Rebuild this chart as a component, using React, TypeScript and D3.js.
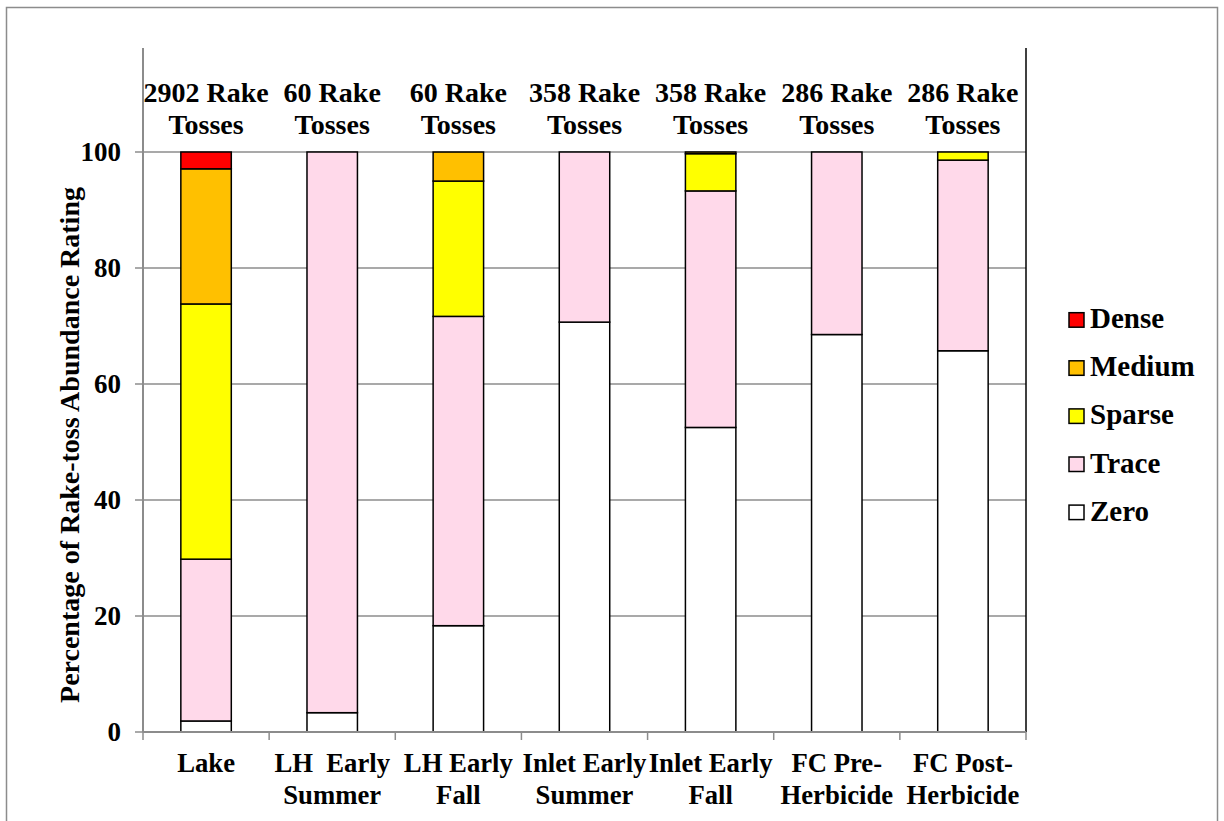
import React from "react";
import * as d3 from "d3";

const categories = [
  ["Lake"],
  ["LH  Early", "Summer"],
  ["LH Early", "Fall"],
  ["Inlet Early", "Summer"],
  ["Inlet Early", "Fall"],
  ["FC Pre-", "Herbicide"],
  ["FC Post-", "Herbicide"],
];
const headers = [
  ["2902 Rake", "Tosses"],
  ["60 Rake", "Tosses"],
  ["60 Rake", "Tosses"],
  ["358 Rake", "Tosses"],
  ["358 Rake", "Tosses"],
  ["286 Rake", "Tosses"],
  ["286 Rake", "Tosses"],
];
const seriesNames = ["Zero", "Trace", "Sparse", "Medium", "Dense"];
const seriesColors = ["#FFFFFF", "#FFD9EA", "#FFFF00", "#FFC000", "#FF0000"];
const zero = [1.9, 3.33, 18.33, 70.67, 52.51, 68.53, 65.73];
const trace = [27.9, 96.67, 53.33, 29.33, 40.78, 31.47, 32.87];
const sparse = [44.0, 0, 23.33, 0, 6.42, 0, 1.4];
const medium = [23.3, 0, 5.0, 0, 0.29, 0, 0];
const dense = [2.9, 0, 0, 0, 0, 0, 0];
const yTicks = [0, 20, 40, 60, 80, 100];

const FONT = "'Liberation Serif', 'Times New Roman', serif";

export default function App() {
  const W = 1224;
  const H = 821;
  const left = 143;
  const right = 1026;
  const top = 48;
  const bottom = 732;

  const keys = categories.map((_, i) => String(i));
  const x = d3.scaleBand<string>().domain(keys).range([left, right]).padding(0);
  const y = d3.scaleLinear().domain([0, 100]).range([bottom, 152]);
  const barW = x.bandwidth() * 0.4;

  const rows = keys.map((k, i) => ({
    k,
    Zero: zero[i],
    Trace: trace[i],
    Sparse: sparse[i],
    Medium: medium[i],
    Dense: dense[i],
  }));
  const stacked = d3.stack<any>().keys(seriesNames)(rows);

  return (
    <svg width={W} height={H} style={{ display: "block", position: "absolute", left: 0, top: 0 }} fontFamily={FONT}>
      <rect x={0} y={0} width={W} height={H} fill="#fff" />
      <rect x={6.5} y={7.5} width={1211} height={830} fill="none" stroke="#8c8c8c" strokeWidth={1.5} />

      {/* gridlines */}
      {yTicks.filter((t) => t > 0).map((t) => (
        <line key={t} x1={left} x2={right} y1={y(t)} y2={y(t)} stroke="#8c8c8c" strokeWidth={1.5} />
      ))}

      {/* stacked bars */}
      {stacked.map((layer, si) => (
        <g key={seriesNames[si]}>
          {layer.map((d, i) => {
            if (d[1] - d[0] <= 0) return null;
            const bx = (x(keys[i]) as number) + (x.bandwidth() - barW) / 2;
            return (
              <rect
                key={i}
                x={bx}
                y={y(d[1])}
                width={barW}
                height={y(d[0]) - y(d[1])}
                fill={seriesColors[si]}
                stroke="#000"
                strokeWidth={1.5}
              />
            );
          })}
        </g>
      ))}

      {/* axes */}
      <line x1={left} x2={left} y1={top} y2={bottom} stroke="#8c8c8c" strokeWidth={2} />
      <line x1={right} x2={right} y1={top} y2={bottom} stroke="#000" strokeWidth={1.5} />
      <line x1={left} x2={right} y1={bottom} y2={bottom} stroke="#8c8c8c" strokeWidth={2} />
      {yTicks.map((t) => (
        <g key={t}>
          <line x1={left - 8} x2={left} y1={y(t)} y2={y(t)} stroke="#8c8c8c" strokeWidth={1.5} />
          <text x={left - 22} y={y(t) + 9} textAnchor="end" fontSize={27} fontWeight="bold">
            {t}
          </text>
        </g>
      ))}
      {keys.concat(["end"]).map((k, i) => {
        const xx = i < keys.length ? (x(k) as number) : right;
        return <line key={k} x1={xx} x2={xx} y1={bottom} y2={bottom + 8} stroke="#8c8c8c" strokeWidth={1.5} />;
      })}

      {/* category labels */}
      {categories.map((lines, i) => {
        const cx = (x(keys[i]) as number) + x.bandwidth() / 2;
        return (
          <text key={i} textAnchor="middle" fontSize={26.7} fontWeight="bold">
            {lines.map((ln, j) => (
              <tspan key={j} x={cx} y={772 + j * 31.6} style={{ whiteSpace: "pre" }}>
                {ln}
              </tspan>
            ))}
          </text>
        );
      })}

      {/* sample-size headers */}
      {headers.map((lines, i) => {
        const cx = (x(keys[i]) as number) + x.bandwidth() / 2;
        return (
          <text key={i} textAnchor="middle" fontSize={28} fontWeight="bold">
            {lines.map((ln, j) => (
              <tspan key={j} x={cx} y={102 + j * 32}>
                {ln}
              </tspan>
            ))}
          </text>
        );
      })}

      {/* y axis title */}
      <text
        transform={`translate(79, 445) rotate(-90)`}
        textAnchor="middle"
        fontSize={28}
        fontWeight="bold"
      >
        Percentage of Rake-toss Abundance Rating
      </text>

      {/* legend */}
      {seriesNames
        .slice()
        .reverse()
        .map((name, j) => {
          const si = seriesNames.length - 1 - j;
          const sy = 312.7 + j * 48.1;
          return (
            <g key={name}>
              <rect x={1069} y={sy} width={15} height={14.5} fill={seriesColors[si]} stroke="#000" strokeWidth={1.5} />
              <text x={1090} y={sy + 15.5} fontSize={29} fontWeight="bold">
                {name}
              </text>
            </g>
          );
        })}
    </svg>
  );
}
